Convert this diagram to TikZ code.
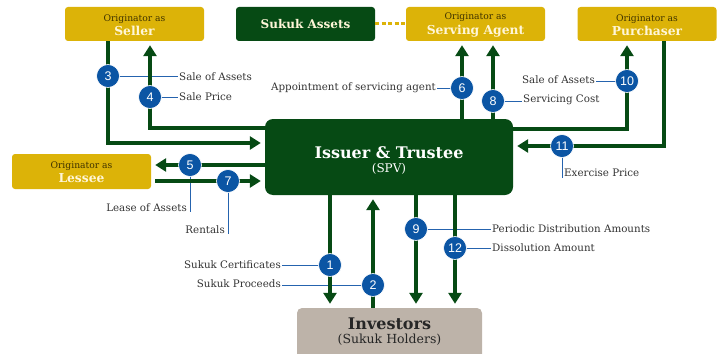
\documentclass[tikz,border=0pt]{standalone}
\usepackage{fontspec}
\setmainfont{DejaVu Serif}
\newfontfamily\badgefont{Liberation Sans}
\usetikzlibrary{arrows.meta}
\definecolor{dgreen}{HTML}{064A14}
\definecolor{gold}{HTML}{DCB308}
\definecolor{bblue}{HTML}{0B55A4}
\definecolor{lblue}{HTML}{2563AE}
\definecolor{taupe}{HTML}{BDB3A9}
\definecolor{cream}{HTML}{FFF6D8}
\definecolor{brownt}{HTML}{3E3200}
\definecolor{txt}{HTML}{333333}
\tikzset{
  ybox/.style={fill=gold, rounded corners=3pt, minimum width=139pt, minimum height=34pt, inner sep=0pt, align=center},
  flow/.style={draw=dgreen, line width=4pt},
  flowarr/.style={flow, -{Triangle[width=13pt,length=11pt]}, shorten >=4pt},
  badge/.style={circle, fill=bblue, draw=white, line width=0.6pt, minimum size=23pt, inner sep=0pt, text=white, font=\badgefont\fontsize{12.5}{12}\selectfont},
  leader/.style={draw=lblue, line width=1pt},
  lab/.style={text=txt, font=\fontsize{10.3}{12}\selectfont, inner sep=1pt},
}
\newcommand{\orig}[1]{{\color{brownt}\fontsize{9.2}{10}\selectfont Originator as}\\[2.5pt]{\color{cream}\fontsize{12.3}{14}\selectfont\bfseries #1}}
\begin{document}
\begin{tikzpicture}[x=1pt,y=-1pt]
\useasboundingbox (0,0) rectangle (722,353);
% boxes
\node[fill=gold, rounded corners=3pt, minimum width=139pt, minimum height=34pt, inner sep=0pt] (seller) at (134.5,24) {};
\node[fill=dgreen, rounded corners=3pt, minimum width=139pt, minimum height=34pt, inner sep=0pt, text=cream, font=\fontsize{12}{14}\selectfont\bfseries] (assets) at (305.5,24) {Sukuk Assets};
\node[fill=gold, rounded corners=3pt, minimum width=139pt, minimum height=34pt, inner sep=0pt] (agent) at (475.5,24) {};
\node[fill=gold, rounded corners=3pt, minimum width=139pt, minimum height=34pt, inner sep=0pt] (purch) at (647,24) {};
\node[fill=gold, rounded corners=3pt, minimum width=139pt, minimum height=35pt, inner sep=0pt] (lessee) at (81.5,171.5) {};
\node[align=center, inner sep=0pt] (sellert) at (134.5,25) {\orig{Seller}};
\node[align=center, inner sep=0pt] (agentt) at (475.5,25) {\orig{Serving Agent}};
\node[align=center, inner sep=0pt] (purcht) at (647,25) {\orig{Purchaser}};
\node[align=center, inner sep=0pt] (lesseet) at (81.5,172) {\orig{Lessee}};
\node[fill=dgreen, rounded corners=8pt, minimum width=248pt, minimum height=76pt, inner sep=0pt] (issuer) at (389,157) {};
\node[align=center, inner sep=0pt, text=white] (issuert) at (389,160) {{\fontsize{16}{18}\selectfont\bfseries Issuer \& Trustee}\\[2pt]{\fontsize{12}{13}\selectfont (SPV)}};
\node[fill=taupe, rounded corners=5pt, minimum width=185pt, minimum height=56pt, inner sep=0pt] (inv) at (389.5,336) {};
\node[text=black!85, align=center, inner sep=0pt] (invt) at (389.5,331.5) {{\fontsize{16}{18}\selectfont\bfseries Investors}\\[1.5pt]{\fontsize{12.5}{14}\selectfont (Sukuk Holders)}};
% dashed link
\draw[draw=gold, line width=3pt, dash pattern=on 4pt off 2.5pt] (assets.east) -- (agent.west);
% badge coordinates
\coordinate (c1) at (330,265);
\coordinate (c2) at (373,285);
\coordinate (c3) at (108,76);
\coordinate (c4) at (150,97);
\coordinate (c5) at (190,165);
\coordinate (c6) at (462,88);
\coordinate (c7) at (228,181);
\coordinate (c8) at (493,101);
\coordinate (c9) at (416,229);
\coordinate (c10) at (627,81);
\coordinate (c11) at (562,146);
\coordinate (c12) at (455,248);
\coordinate (h3) at (0,143);
\coordinate (h4) at (0,128);
\coordinate (h10) at (0,129);
\coordinate (v11) at (664,0);
% labels and leaders
\node[lab, anchor=west] (l3) at (178,77) {Sale of Assets};
\node[lab, anchor=west] (l4) at (178,97) {Sale Price};
\node[lab, anchor=east] (l5) at (188,208) {Lease of Assets};
\node[lab, anchor=east] (l7) at (226,230) {Rentals};
\node[lab, anchor=east] (l6) at (437,88) {Appointment of servicing agent};
\node[lab, anchor=west] (l8) at (522,100) {Servicing Cost};
\node[lab, anchor=east] (l10) at (596,80) {Sale of Assets};
\node[lab, anchor=west] (l11) at (563,173) {Exercise Price};
\node[lab, anchor=east] (l1) at (282,265) {Sukuk Certificates};
\node[lab, anchor=east] (l2) at (282,284) {Sukuk Proceeds};
\node[lab, anchor=west] (l9) at (491,229) {Periodic Distribution Amounts};
\node[lab, anchor=west] (l12) at (491,248) {Dissolution Amount};
\draw[leader] (c3) -- (l3.west |- c3);
\draw[leader] (c4) -- (l4.west |- c4);
\draw[leader] (c5) -- ++(0,47);
\draw[leader] (c7) -- ++(0,53);
\draw[leader] (l6.east |- c6) -- (c6);
\draw[leader] (c8) -- (l8.west |- c8);
\draw[leader] (l10.east |- c10) -- (c10);
\draw[leader] (c11) -- ++(0,32);
\draw[leader] (l1.east |- c1) -- (c1);
\draw[leader] (l2.east |- c2) -- (c2);
\draw[leader] (c9) -- (l9.west |- c9);
\draw[leader] (c12) -- (l12.west |- c12);
% flows
\draw[flowarr] (seller.south -| c3) |- (issuer.west |- h3);
\draw[flowarr] (issuer.west |- h4) -| (seller.south -| c4);
\draw[flowarr] (issuer.west |- c5) -- (lessee.east |- c5);
\draw[flowarr] ([xshift=4pt]lessee.east |- c7) -- (issuer.west |- c7);
\draw[flowarr] (issuer.north -| c6) -- (agent.south -| c6);
\draw[flowarr] (issuer.north -| c8) -- (agent.south -| c8);
\draw[flowarr] (issuer.east |- h10) -| (purch.south -| c10);
\draw[flowarr] (purch.south -| v11) |- (issuer.east |- c11);
\draw[flowarr] (issuer.south -| c1) -- (inv.north -| c1);
\draw[flowarr] (inv.north -| c2) -- (issuer.south -| c2);
\draw[flowarr] (issuer.south -| c9) -- (inv.north -| c9);
\draw[flowarr] (issuer.south -| c12) -- (inv.north -| c12);
% badges
\node[badge] (b1) at (c1) {1};
\node[badge] (b2) at (c2) {2};
\node[badge] (b3) at (c3) {3};
\node[badge] (b4) at (c4) {4};
\node[badge] (b5) at (c5) {5};
\node[badge] (b6) at (c6) {6};
\node[badge] (b7) at (c7) {7};
\node[badge] (b8) at (c8) {8};
\node[badge] (b9) at (c9) {9};
\node[badge] (b10) at (c10) {10};
\node[badge] (b11) at (c11) {11};
\node[badge] (b12) at (c12) {12};
\end{tikzpicture}
\end{document}
